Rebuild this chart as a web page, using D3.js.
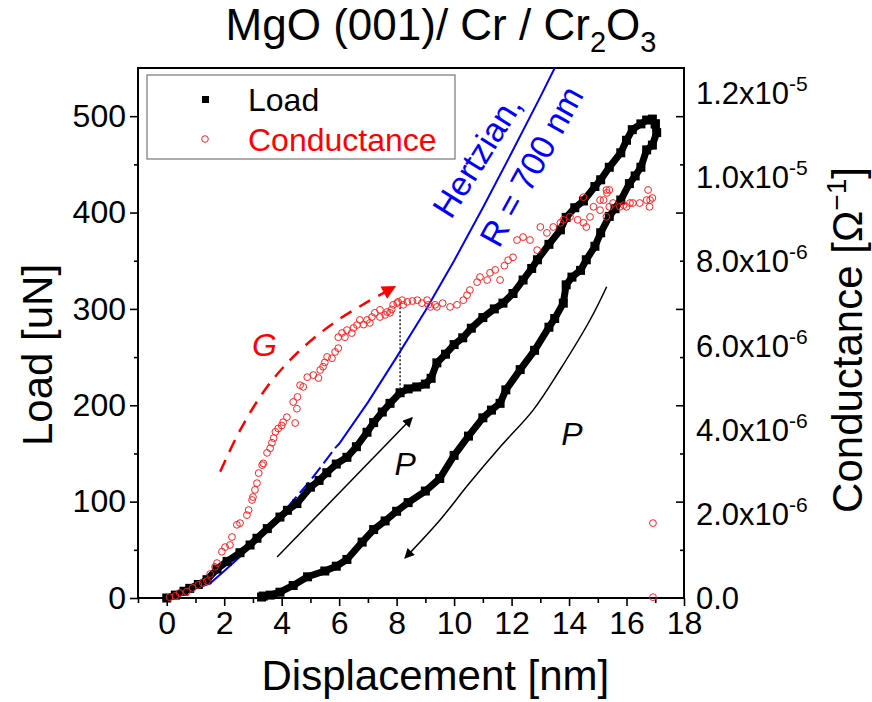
<!DOCTYPE html>
<html>
<head>
<meta charset="utf-8">
<script src="https://cdn.jsdelivr.net/npm/d3@7"></script>
<style>
  body { margin: 0; background: #fff; }
  text { font-family: "Liberation Sans", Arial, sans-serif; }
</style>
</head>
<body>
<div id="chart"></div>
<script>
// displacement [nm], load [uN] - loading branch
var loadUp = [
  [0,0],[0.3,3],[0.6,7],[0.8,10],[1.1,14],[1.4,19],[1.75,30],[2.1,38],[2.55,47],[2.9,55],
  [3.14,62],[3.5,72],[3.94,84],[4.2,91],[4.53,98],[5.0,115],[5.3,122],[5.57,130],[5.9,139],
  [6.27,146],[6.6,157],[6.97,172],[7.2,182],[7.5,193],[7.77,202],[8.12,213],[8.4,217],
  [8.7,219],[9.0,222],[9.2,228],[9.4,244],[9.7,253],[10.0,263],[10.3,270],[10.6,280],
  [11.0,291],[11.4,300],[11.7,306],[12.05,316],[12.4,330],[12.7,342],[12.9,351],[13.3,367],
  [13.7,382],[13.9,395],[14.2,405],[14.5,412],[14.9,427],[15.1,434],[15.4,447],[15.8,462],
  [16.0,475],[16.2,486],[16.5,492],[16.7,496],[16.9,497],[17.0,492]
];
// unloading branch
var loadDown = [
  [17.0,492],[17.05,483],[16.9,470],[16.7,465],[16.5,447],[16.3,438],[16.1,430],[15.8,413],
  [15.6,404],[15.4,396],[15.1,379],[14.9,365],[14.6,351],[14.4,340],[14.1,333],[13.9,325],
  [13.8,306],[13.5,290],[13.3,281],[12.8,257],[12.3,237],[11.8,216],[11.6,202],[11.3,195],
  [11.0,187],[10.5,168],[10.0,148],[9.5,124],[9.0,111],[8.4,99],[8.0,90],[7.6,80],[7.2,71],
  [6.8,58],[6.27,40],[5.9,33],[5.5,28],[4.9,22],[4.4,13],[3.94,6],[3.6,3],[3.36,2],[3.3,1]
];
// displacement [nm], conductance [x1e-6 1/Ohm]
var conductance = [
  [0.1,0.02],[0.3,0.05],[0.45,0.12],[0.7,0.15],[0.9,0.24],[1.1,0.31],[1.25,0.36],[1.4,0.4],
  [1.51,0.57],[1.68,0.74],[1.75,0.83],[1.92,1.1],[2.03,1.21],[2.2,1.26],[2.27,1.45],[2.44,1.74],
  [2.55,1.78],[2.79,1.97],[2.85,2.09],[2.97,2.33],[3.0,2.4],[3.07,2.57],[3.14,2.73],[3.2,2.97],
  [3.32,3.16],[3.36,3.2],[3.49,3.45],[3.6,3.56],[3.66,3.69],[3.72,3.8],[3.78,3.95],[3.88,4.03],
  [4.0,4.1],[4.05,4.18],[4.18,4.3],[4.4,4.66],[4.47,4.16],[4.53,4.5],[4.55,4.78],[4.64,5.06],
  [4.75,5.02],[4.89,5.25],[5.1,5.3],[5.28,5.23],[5.34,5.42],[5.44,5.5],[5.5,5.6],[5.58,5.73],
  [5.75,5.7],[5.86,5.85],[5.97,5.94],[5.97,6.2],[6.1,6.3],[6.2,6.2],[6.27,6.37],[6.44,6.3],
  [6.5,6.42],[6.62,6.49],[6.72,6.61],[6.85,6.5],[6.97,6.61],[7.07,6.54],[7.14,6.68],[7.24,6.78],
  [7.42,6.85],[7.42,6.68],[7.6,6.73],[7.67,6.8],[7.77,6.78],[7.83,6.86],[7.88,6.97],[8.02,7.01],
  [8.05,7.04],[8.19,7.08],[8.23,6.97],[8.37,7.04],[8.55,7.06],[8.72,7.08],[8.88,7.01],[9.06,7.08],
  [9.1,6.97],[9.17,6.92],[9.34,6.97],[9.4,6.92],[9.6,7.01],[9.86,6.92],[10.1,6.97],[10.32,7.08],
  [10.45,7.2],[10.55,7.32],[10.8,7.51],[10.9,7.63],[11.15,7.56],[11.25,7.73],[11.43,7.8],
  [11.6,7.56],[11.75,7.9],[11.88,8.03],[12.05,8.1],[12.19,8.51],[12.4,8.58],[12.64,8.51],
  [12.89,8.27],[13.0,8.82],[13.23,8.68],[13.45,8.82],[13.7,8.92],[13.8,8.99],[14.03,9.06],
  [14.3,8.99],[14.5,8.92],[14.6,8.82],[14.5,9.53],[14.73,9.06],[14.85,9.3],[15.08,9.46],
  [15.08,9.22],[15.2,9.46],[15.3,9.7],[15.3,9.06],[15.32,9.63],[15.4,9.7],[15.4,9.3],
  [15.53,9.39],[15.77,9.3],[15.9,9.34],[16.0,9.3],[16.12,9.39],[16.22,9.39],[16.46,9.39],
  [16.7,9.46],[16.75,9.7],[16.8,9.3],[16.82,9.46],[16.9,9.51],[16.92,1.78],[16.92,0.02]
];
// Hertzian fit, R = 700 nm (displacement, load)
var hertzSolid1 = [[0.8,8],[1.5,15],[2,28],[3,55],[4,87],[4.2,94]];
var hertzDashed = [[4.2,94],[5,122],[5.9,157]];
var hertzSolid2 = [[5.9,157],[6,160],[7,203],[8,250],[9,298],[10,350],[11,405],[12,462],[13,520],[13.5,550]];

var loadTicks = [0,100,200,300,400,500];
var loadMinor = [50,150,250,350,450];
var dispTicks = [0,2,4,6,8,10,12,14,16,18];
var dispMinor = [-1,1,3,5,7,9,11,13,15,17];
var condTicks = [[0,"0.0",""],[2,"2.0x10","-6"],[4,"4.0x10","-6"],[6,"6.0x10","-6"],
                 [8,"8.0x10","-6"],[10,"1.0x10","-5"],[12,"1.2x10","-5"]];

var width = 872, height = 702;
var mLeft = 138, mRight = 684, mTop = 68, mBottom = 598;

var svg = d3.select("#chart").append("svg")
  .attr("width", width)
  .attr("height", height);

var x = d3.scaleLinear().domain([-1, 18]).range([mLeft, mRight]);
var y = d3.scaleLinear().domain([0, 550]).range([mBottom, mTop]);
var yc = d3.scaleLinear().domain([0, 12.6]).range([mBottom, mTop]);

// axes
svg.append("g").attr("transform", "translate(0," + mBottom + ")")
  .call(d3.axisBottom(x).tickValues(dispTicks).tickSize(8).tickPadding(5));
svg.append("g").attr("transform", "translate(0," + mBottom + ")")
  .call(d3.axisBottom(x).tickValues(dispMinor).tickSize(5).tickFormat(""));
svg.append("g").attr("transform", "translate(" + mLeft + ",0)")
  .call(d3.axisLeft(y).tickValues(loadTicks).tickSize(8).tickPadding(4));
svg.append("g").attr("transform", "translate(" + mLeft + ",0)")
  .call(d3.axisLeft(y).tickValues(loadMinor).tickSize(4).tickFormat(""));
// mirrored ticks on the right spine, pointing inward
svg.append("g").attr("transform", "translate(" + mRight + ",0)")
  .call(d3.axisLeft(y).tickValues(loadTicks.slice(1)).tickSize(8).tickFormat(""));
svg.append("g").attr("transform", "translate(" + mRight + ",0)")
  .call(d3.axisLeft(y).tickValues(loadMinor).tickSize(4).tickFormat(""));

svg.selectAll(".domain").remove();
svg.selectAll(".tick line").attr("stroke", "#000").attr("stroke-width", 1.6);
svg.selectAll(".tick text").style("font-size", "32px").attr("fill", "#000")
  .style("font-family", "'Liberation Sans', Arial, sans-serif");

svg.append("rect")
  .attr("x", mLeft).attr("y", mTop)
  .attr("width", mRight - mLeft).attr("height", mBottom - mTop)
  .attr("fill", "none").attr("stroke", "#000").attr("stroke-width", 2);

// right conductance labels (no ticks)
var cl = svg.append("g").selectAll("text").data(condTicks).enter()
  .append("text")
  .attr("x", mRight + 12)
  .attr("y", function(d) { return yc(d[0]) + 11; })
  .style("font-size", "31px");
cl.append("tspan").text(function(d) { return d[1]; });
cl.append("tspan").attr("dy", -13).style("font-size", "21px").text(function(d) { return d[2]; });

// axis titles
svg.append("text").attr("x", (x(0) + x(18)) / 2 + 10).attr("y", 690)
  .attr("text-anchor", "middle").style("font-size", "42px").text("Displacement [nm]");
svg.append("text").attr("transform", "translate(52,355) rotate(-90)")
  .attr("text-anchor", "middle").style("font-size", "42px").text("Load [uN]");
var ct = svg.append("text").attr("transform", "translate(862,340) rotate(-90)")
  .attr("text-anchor", "middle").style("font-size", "42px");
ct.append("tspan").text("Conductance [\u03A9");
ct.append("tspan").attr("dy", -16).style("font-size", "28px").text("\u22121");
ct.append("tspan").attr("dy", 16).text("]");

// title
var tt = svg.append("text").attr("x", 441).attr("y", 40)
  .attr("text-anchor", "middle").style("font-size", "44px");
tt.append("tspan").text("MgO (001)/ Cr / Cr");
tt.append("tspan").attr("dy", 12).style("font-size", "29px").text("2");
tt.append("tspan").attr("dy", -12).text("O");
tt.append("tspan").attr("dy", 12).style("font-size", "29px").text("3");

var plot = svg.append("g");

// hertzian
var line = d3.line().x(function(d) { return x(d[0]); }).y(function(d) { return y(d[1]); });
svg.append("clipPath").attr("id", "clip").append("rect")
  .attr("x", mLeft).attr("y", mTop).attr("width", mRight - mLeft).attr("height", mBottom - mTop);
plot.append("path").datum(hertzSolid1).attr("d", line)
  .attr("fill", "none").attr("stroke", "#0000ff").attr("stroke-width", 2);
plot.append("path").datum(hertzDashed).attr("d", line)
  .attr("fill", "none").attr("stroke", "#0000ff").attr("stroke-width", 2)
  .attr("stroke-dasharray", "14,5");
plot.append("path").datum(hertzSolid2).attr("d", line).attr("clip-path", "url(#clip)")
  .attr("fill", "none").attr("stroke", "#0000ff").attr("stroke-width", 2);

// load curve: dense square markers
[loadUp, loadDown].forEach(function(branch) {
  plot.append("path").datum(branch).attr("d", line)
    .attr("fill", "none").attr("stroke", "#000").attr("stroke-width", 7)
    .attr("stroke-linejoin", "round");
  plot.append("g").selectAll("rect").data(branch).enter().append("rect")
    .attr("x", function(d) { return x(d[0]) - 4.5; })
    .attr("y", function(d) { return y(d[1]) - 4.5; })
    .attr("width", 9).attr("height", 9).attr("fill", "#000");
});

// dotted guide at G maximum
plot.append("line")
  .attr("x1", x(8.12)).attr("x2", x(8.12))
  .attr("y1", y(306)).attr("y2", y(218))
  .attr("stroke", "#000").attr("stroke-width", 1.3).attr("stroke-dasharray", "2,2");

// conductance circles
plot.append("g").selectAll("circle").data(conductance).enter().append("circle")
  .attr("cx", function(d) { return x(d[0]); })
  .attr("cy", function(d) { return yc(d[1]); })
  .attr("r", 3.4)
  .attr("fill", "none").attr("stroke", "#ff2020").attr("stroke-width", 1);

// arrows
var defs = svg.append("defs");
function marker(id, color, w, h) {
  defs.append("marker").attr("id", id)
    .attr("viewBox", "0 0 10 10").attr("refX", 9).attr("refY", 5)
    .attr("markerUnits", "userSpaceOnUse")
    .attr("markerWidth", w).attr("markerHeight", h)
    .attr("orient", "auto")
    .append("path").attr("d", "M0,0 L10,5 L0,10 z").attr("fill", color);
}
marker("arrRed", "#ff0000", 20, 14);
marker("arrBlack", "#000", 16, 10);

var gArc = [[1.86,131],[2.55,174],[3.49,219],[4.53,254],[5.79,285],[6.97,307],[7.94,323]];
var pUp = [[3.84,42.5],[8.54,187]];
var pDown = [[15.31,323],[14.73,288.5],[13.68,236.6],[12.75,195],[11.6,156.7],[10.5,118],[9.51,81],[8.29,41.5]];

var curve = d3.line().curve(d3.curveCatmullRom)
  .x(function(d) { return x(d[0]); }).y(function(d) { return y(d[1]); });

plot.append("path").datum(gArc).attr("d", curve)
  .attr("fill", "none").attr("stroke", "#ff0000").attr("stroke-width", 2.5)
  .attr("stroke-dasharray", "13,9").attr("marker-end", "url(#arrRed)");
plot.append("path").datum(pUp).attr("d", line)
  .attr("fill", "none").attr("stroke", "#000").attr("stroke-width", 1.5)
  .attr("marker-end", "url(#arrBlack)");
plot.append("path").datum(pDown).attr("d", curve)
  .attr("fill", "none").attr("stroke", "#000").attr("stroke-width", 1.5)
  .attr("marker-end", "url(#arrBlack)");

// labels
svg.append("text").attr("x", x(3.4)).attr("y", y(251))
  .attr("text-anchor", "middle").style("font-size", "32px").style("font-style", "italic")
  .attr("fill", "#ff0000").text("G");
svg.append("text").attr("x", x(8.3)).attr("y", y(128))
  .attr("text-anchor", "middle").style("font-size", "32px").style("font-style", "italic")
  .text("P");
svg.append("text").attr("transform", "translate(" + x(14.1) + "," + y(159) + ")")
  .attr("text-anchor", "middle").style("font-size", "32px").style("font-style", "italic")
  .text("P");
svg.append("text").attr("transform", "translate(" + x(11.15) + "," + y(452) + ") rotate(-58)")
  .attr("text-anchor", "middle").style("font-size", "34px").attr("fill", "#0000ff")
  .text("Hertzian,");
svg.append("text").attr("transform", "translate(" + x(13.05) + "," + y(442) + ") rotate(-61)")
  .attr("text-anchor", "middle").style("font-size", "34px").attr("fill", "#0000ff")
  .text("R = 700 nm");

// legend
var lg = svg.append("g");
lg.append("rect").attr("x", 147).attr("y", 75).attr("width", 308).attr("height", 84)
  .attr("fill", "#fff").attr("stroke", "#777").attr("stroke-width", 1.2);
lg.append("rect").attr("x", 202).attr("y", 96).attr("width", 7).attr("height", 7).attr("fill", "#000");
lg.append("circle").attr("cx", 205).attr("cy", 139).attr("r", 3.3)
  .attr("fill", "none").attr("stroke", "#ff2020");
lg.append("text").attr("x", 248).attr("y", 111).style("font-size", "32px").text("Load");
lg.append("text").attr("x", 248).attr("y", 151).style("font-size", "32px").attr("fill", "#ff0000")
  .text("Conductance");
</script>
</body>
</html>
